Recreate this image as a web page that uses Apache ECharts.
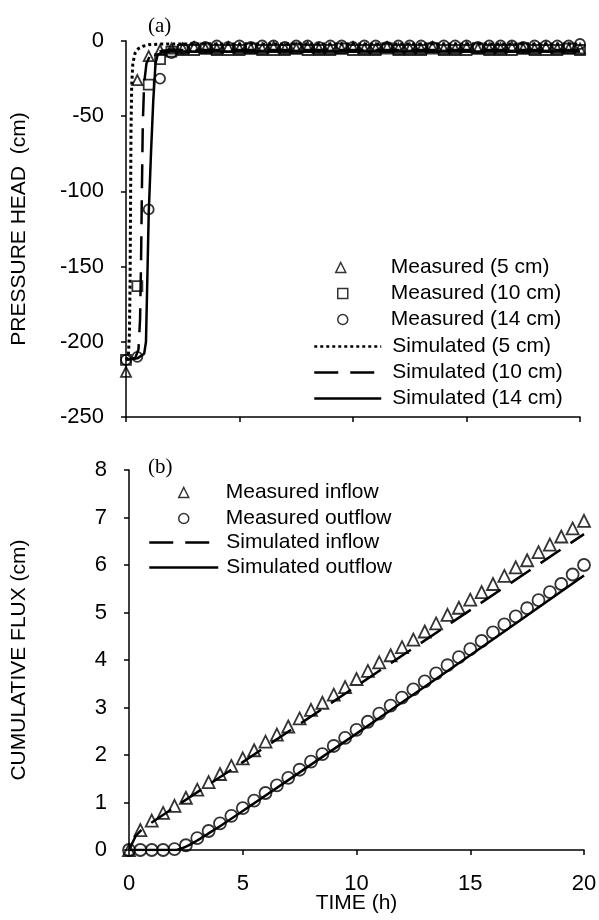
<!DOCTYPE html>
<html><head><meta charset="utf-8">
<script src="https://cdn.jsdelivr.net/npm/echarts@6/dist/echarts.min.js"></script>
<style>html,body{margin:0;padding:0;background:#fff}#c{width:599px;height:920px}</style>
</head><body><div id="c"></div>
<script>
// ---------- data ----------
const timeMeas = [0,0.5,1,1.5,2,2.5,3,3.5,4,4.5,5,5.5,6,6.5,7,7.5,8,8.5,9,9.5,10,10.5,11,11.5,12,12.5,13,13.5,14,14.5,15,15.5,16,16.5,17,17.5,18,18.5,19,19.5,20];

// (a) pressure head, measured
const measured5 = [-220,-26,-10,-6,-5,-5,-4,-5,-5,-4,-5,-5,-5,-4,-5,-5,-4,-5,-5,-5,-4,-5,-5,-4,-5,-5,-5,-4,-5,-5,-4,-5,-5,-5,-4,-5,-5,-4,-5,-5,-5];
const measured10 = [-212,-163,-29,-12,-7,-6,-6,-5,-6,-6,-6,-5,-6,-6,-6,-5,-6,-6,-6,-5,-6,-6,-6,-5,-6,-6,-6,-5,-6,-6,-6,-5,-6,-6,-6,-5,-6,-6,-6,-5,-6];
const measured14 = [-212,-210,-112,-25,-8,-5,-4,-4,-3,-4,-3,-4,-3,-3,-4,-3,-3,-4,-3,-3,-4,-3,-3,-4,-3,-3,-3,-4,-3,-3,-3,-4,-3,-3,-3,-4,-3,-3,-3,-3,-2];

// (a) pressure head, simulated
const sim5Time = [0,0.1,0.15,0.18,0.2,0.22,0.25,0.3,0.4,0.55,0.75,1,1.5,2,20];
const sim5Head = [-212,-210,-195,-160,-110,-60,-30,-15,-8,-5,-3.5,-2.5,-2,-2,-2];
const sim10Time = [0,0.4,0.55,0.62,0.66,0.7,0.74,0.8,0.9,1.05,1.3,1.6,2,20];
const sim10Head = [-212,-211,-205,-185,-150,-100,-55,-28,-15,-10,-7.5,-6.5,-6,-6];
const sim14Time = [0,0.5,0.8,0.88,0.93,1.0,1.1,1.2,1.3,1.4,1.6,2,20];
const sim14Head = [-212,-211,-208,-200,-165,-115,-75,-40,-15,-9,-7.5,-7,-7];

// (b) cumulative flux
const measuredInflow = [0,0.42,0.62,0.78,0.93,1.1,1.27,1.43,1.6,1.77,1.93,2.1,2.28,2.43,2.6,2.77,2.95,3.1,3.27,3.43,3.6,3.77,3.95,4.1,4.27,4.43,4.6,4.77,4.95,5.1,5.27,5.43,5.6,5.77,5.95,6.1,6.27,6.43,6.6,6.77,6.93];
const measuredOutflow = [0,0,0,0,0.02,0.1,0.25,0.4,0.56,0.72,0.88,1.04,1.2,1.36,1.52,1.69,1.86,2.02,2.19,2.36,2.53,2.7,2.87,3.04,3.21,3.38,3.55,3.72,3.89,4.06,4.23,4.4,4.58,4.75,4.92,5.09,5.26,5.43,5.6,5.8,6.0];
const simInflowTime = [0,0.3,0.6,1,2,5,10,15,20];
const simInflow = [0,0.3,0.45,0.58,0.9,1.85,3.45,5.05,6.65];
const simOutflowTime = [0,2,2.5,3,3.5,4,5,10,15,20];
const simOutflow = [0,0,0.07,0.2,0.35,0.5,0.82,2.45,4.1,5.78];

// tick labels
const xTicks = [0,5,10,15,20];
const headTicks = [-250,-200,-150,-100,-50,0];
const fluxTicks = [0,1,2,3,4,5,6,7,8];

// ---------- chart ----------
function zip(xs, ys){ return xs.map((x,i)=>[x, ys[i]]); }
const FONT = 'Liberation Sans';
const BLACK = '#000';
const lineAx = {show:true, onZero:false, lineStyle:{color:BLACK, width:1.5}};
const tickAx = {show:true, inside:false, length:5, lineStyle:{color:BLACK, width:1.5}};
const lblAx = {show:true, color:BLACK, fontFamily:FONT, fontSize:22, margin:22};
const MK = {color:'transparent', borderColor:BLACK, borderWidth:1.8};

const DOT = [3,3], DASH = [24,12];

function markerLegend(name, left, top, pad){
  return {data:[name], left:left, top:top, itemWidth:10, itemHeight:10, padding:0, selectedMode:false,
    symbolKeepAspect:true,
    textStyle:{fontFamily:FONT, fontSize:21, color:BLACK, padding:[0,0,0,pad]},
    itemStyle:{color:'transparent', borderColor:BLACK, borderWidth:1.5}};
}
function lineLegend(name, left, width, top, type, pad){
  return {data:[name], left:left, top:top, itemWidth:width, itemHeight:10, padding:0, selectedMode:false,
    textStyle:{fontFamily:FONT, fontSize:21, color:BLACK, padding:[0,0,0,pad]},
    itemStyle:{opacity:0, color:'transparent', borderWidth:0},
    lineStyle:{color:BLACK, width:2.5, type:type, opacity:1}};
}

const option = {
  animation:false,
  backgroundColor:'#fff',
  title:[
    {text:'(a)', left:148, top:16, padding:0, textStyle:{fontFamily:'Liberation Serif', fontSize:21, fontWeight:'normal', color:BLACK}},
    {text:'(b)', left:148, top:457, padding:0, textStyle:{fontFamily:'Liberation Serif', fontSize:21, fontWeight:'normal', color:BLACK}}
  ],
  grid:[
    {left:126, right:19, top:41, height:376, outerBoundsMode:'none', containLabel:false},
    {left:129, right:15, top:470, height:380, outerBoundsMode:'none', containLabel:false}
  ],
  xAxis:[
    {gridIndex:0, type:'value', min:xTicks[0], max:xTicks[xTicks.length-1], interval:xTicks[1]-xTicks[0],
      axisLine:lineAx, axisTick:tickAx, axisLabel:{show:false}, splitLine:{show:false}},
    {gridIndex:1, type:'value', min:xTicks[0], max:xTicks[xTicks.length-1], interval:xTicks[1]-xTicks[0],
      axisLine:lineAx, axisTick:tickAx, axisLabel:Object.assign({}, lblAx, {margin:23}), splitLine:{show:false},
      name:'TIME (h)', nameLocation:'middle', nameGap:43, nameMoveOverlap:false,
      nameTextStyle:{fontFamily:FONT, fontSize:21, color:BLACK}}
  ],
  yAxis:[
    {gridIndex:0, type:'value', min:headTicks[0], max:headTicks[headTicks.length-1], interval:headTicks[1]-headTicks[0],
      axisLine:lineAx, axisTick:tickAx, axisLabel:lblAx, splitLine:{show:false},
      name:'PRESSURE HEAD  (cm)', nameLocation:'middle', nameGap:96, nameMoveOverlap:false,
      nameTextStyle:{fontFamily:FONT, fontSize:21, color:BLACK}},
    {gridIndex:1, type:'value', min:fluxTicks[0], max:fluxTicks[fluxTicks.length-1], interval:fluxTicks[1]-fluxTicks[0],
      axisLine:lineAx, axisTick:tickAx, axisLabel:lblAx, splitLine:{show:false},
      name:'CUMULATIVE FLUX (cm)', nameLocation:'middle', nameGap:99, nameMoveOverlap:false,
      nameTextStyle:{fontFamily:FONT, fontSize:21, color:BLACK}}
  ],
  legend:[
    markerLegend('Measured (5 cm)', 335, 257, 40),
    markerLegend('Measured (10 cm)', 337, 283, 38),
    markerLegend('Measured (14 cm)', 337, 309, 38),
    lineLegend('Simulated (5 cm)', 313, 67, 336, DOT, 6),
    lineLegend('Simulated (10 cm)', 313, 67, 362, DASH, 6),
    lineLegend('Simulated (14 cm)', 313, 67, 388, 'solid', 6),
    markerLegend('Measured inflow', 178, 482, 32),
    markerLegend('Measured outflow', 178, 508, 32),
    lineLegend('Simulated inflow', 148, 69, 532, DASH, 3),
    lineLegend('Simulated outflow', 148, 69, 557, 'solid', 3)
  ],
  series:[
    {name:'Simulated (5 cm)', type:'line', xAxisIndex:0, yAxisIndex:0, data:zip(sim5Time, sim5Head), symbol:'none',
      lineStyle:{color:BLACK, width:3, type:DOT}},
    {name:'Simulated (10 cm)', type:'line', xAxisIndex:0, yAxisIndex:0, data:zip(sim10Time, sim10Head), symbol:'none',
      lineStyle:{color:BLACK, width:2.5, type:DASH}},
    {name:'Simulated (14 cm)', type:'line', xAxisIndex:0, yAxisIndex:0, data:zip(sim14Time, sim14Head), symbol:'none',
      lineStyle:{color:BLACK, width:2.5, type:'solid'}},
    {name:'Measured (5 cm)', type:'scatter', xAxisIndex:0, yAxisIndex:0, data:zip(timeMeas, measured5), symbol:'triangle', symbolSize:10, symbolKeepAspect:true,
      itemStyle:MK},
    {name:'Measured (10 cm)', type:'scatter', xAxisIndex:0, yAxisIndex:0, data:zip(timeMeas, measured10), symbol:'rect', symbolSize:10, symbolKeepAspect:true,
      itemStyle:MK},
    {name:'Measured (14 cm)', type:'scatter', xAxisIndex:0, yAxisIndex:0, data:zip(timeMeas, measured14), symbol:'circle', symbolSize:10,
      itemStyle:MK},

    {name:'Simulated inflow', type:'line', xAxisIndex:1, yAxisIndex:1, data:zip(simInflowTime, simInflow), symbol:'none',
      lineStyle:{color:BLACK, width:2.5, type:DASH}},
    {name:'Simulated outflow', type:'line', xAxisIndex:1, yAxisIndex:1, data:zip(simOutflowTime, simOutflow), symbol:'none', smooth:0.3,
      lineStyle:{color:BLACK, width:2.5, type:'solid'}},
    {name:'Measured inflow', type:'scatter', xAxisIndex:1, yAxisIndex:1, data:zip(timeMeas, measuredInflow), symbol:'triangle', symbolSize:12, symbolKeepAspect:true,
      itemStyle:MK},
    {name:'Measured outflow', type:'scatter', xAxisIndex:1, yAxisIndex:1, data:zip(timeMeas, measuredOutflow), symbol:'circle', symbolSize:12,
      itemStyle:MK}
  ]
};
const chart = echarts.init(document.getElementById('c'), null, {renderer:'canvas'});
chart.setOption(option);
</script>
</body></html>
